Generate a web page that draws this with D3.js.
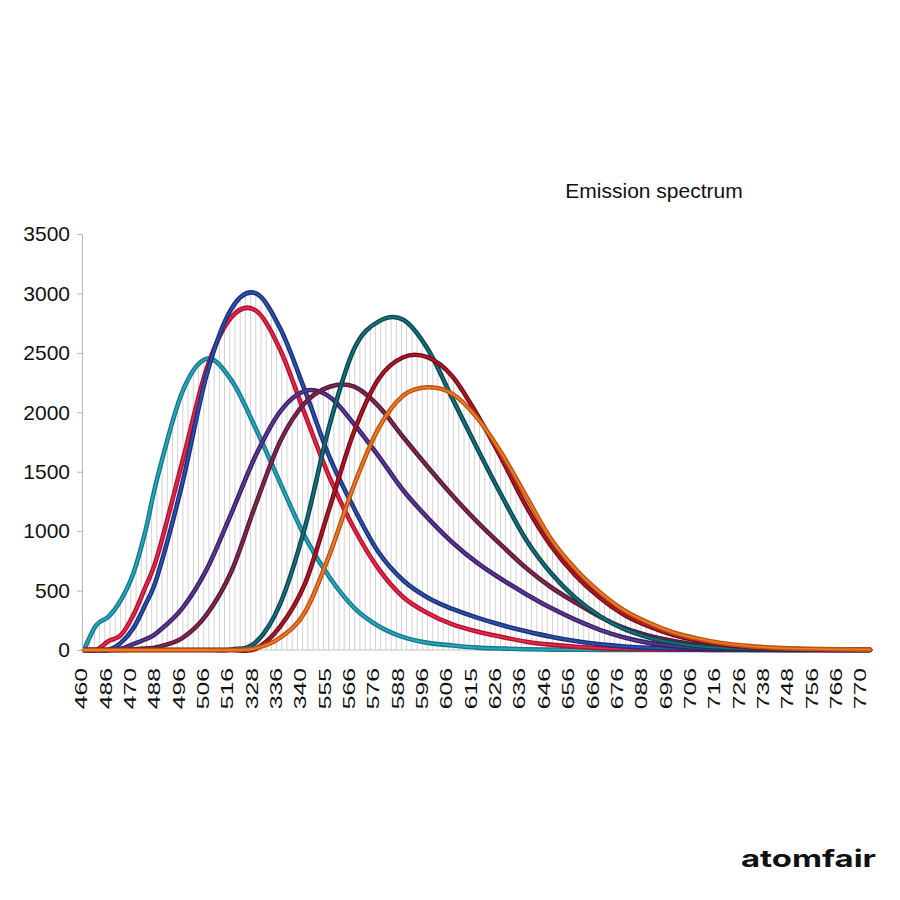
<!DOCTYPE html>
<html>
<head>
<meta charset="utf-8">
<script src="https://cdn.jsdelivr.net/npm/d3@7"></script>
<style>
  html, body { margin: 0; padding: 0; background: #fff; }
  #wrapper { width: 900px; height: 900px; }
  text { font-family: "Liberation Sans", Arial, sans-serif; }
</style>
</head>
<body>
<div id="wrapper"></div>
<script>
// tick labels on the category axis (as printed in the picture)
const tickLabels = ["460", "486", "470", "488", "496", "506", "516", "328", "336", "340", "555",
    "566", "576", "588", "596", "606", "615", "626", "636", "646", "656", "666", "676", "088",
    "696", "706", "716", "726", "738", "748", "756", "766", "770"];
const yTicks = [0, 500, 1000, 1500, 2000, 2500, 3000, 3500];

// positions of the samples, in tick-index units
const samplePos = [0, 0.5, 1, 1.5, 2, 2.5, 3, 4, 5, 6, 7, 8, 9, 10, 11, 12, 13, 14, 15, 16, 17,
    18, 19, 20, 21, 22, 23, 24, 25, 26, 27, 28, 29, 30, 31, 32];

const cyanValues = [0, 210, 280, 420, 640, 1000, 1460, 2170, 2450, 2270, 1860, 1400, 950, 610, 355,
    200, 108, 60, 38, 20, 12, 6, 3, 2, 1, 0, 0, 0, 0, 0, 0, 0, 0, 0, 0, 0];
const redValues = [0, 0, 75, 125, 290, 530, 800, 1580, 2370, 2800, 2855, 2520, 1980, 1450, 1020,
    680, 444, 310, 215, 155, 110, 70, 45, 28, 16, 10, 6, 3, 2, 1, 1, 0, 0, 0, 0, 0];
const blueValues = [0, 0, 0, 60, 180, 383, 630, 1400, 2320, 2870, 3000, 2700, 2180, 1620, 1190,
    820, 585, 440, 345, 272, 210, 158, 112, 75, 48, 30, 19, 12, 7, 4, 2, 1, 1, 0, 0, 0];
const purpleValues = [0, 0, 0, 10, 50, 90, 150, 350, 680, 1150, 1640, 2010, 2180, 2130, 1900,
    1630, 1342, 1110, 905, 735, 595, 470, 355, 255, 170, 105, 60, 32, 16, 8, 4, 2, 1, 0, 0, 0];
const maroonValues = [0, 0, 0, 0, 5, 12, 25, 100, 300, 660, 1230, 1760, 2080, 2215, 2215, 2050,
    1790, 1540, 1300, 1080, 880, 690, 530, 400, 280, 185, 120, 75, 45, 25, 14, 8, 4, 2, 1, 0];
const tealValues = [0, 0, 0, 0, 0, 0, 0, 0, 0, 5, 65, 395, 1035, 1895, 2535, 2765, 2778, 2530,
    2115, 1700, 1300, 928, 650, 440, 285, 175, 105, 60, 33, 18, 10, 5, 3, 2, 1, 0];
const darkRedValues = [0, 0, 0, 0, 0, 0, 0, 0, 0, 0, 10, 200, 560, 1198, 1840, 2282, 2463, 2462,
    2302, 1982, 1610, 1210, 880, 630, 440, 295, 198, 125, 78, 45, 25, 14, 8, 5, 3, 2];
const orangeValues = [0, 0, 0, 0, 0, 0, 0, 0, 0, 0, 15, 105, 320, 805, 1390, 1868, 2141, 2210,
    2155, 1955, 1655, 1295, 938, 683, 486, 332, 228, 147, 95, 57, 35, 20, 12, 8, 5, 3];

const seriesNames = ["cyan", "red", "blue", "purple", "maroon", "teal", "darkred", "orange"];
const seriesValues = [cyanValues, redValues, blueValues, purpleValues, maroonValues,
    tealValues, darkRedValues, orangeValues];
const outerColors = ["#16798d", "#b3112e", "#1b2f7c", "#3b1f68", "#5b1839", "#0b4650", "#7a0c18", "#bd520f"];
const innerColors = ["#2aa6ba", "#e22a4c", "#2c54ab", "#5c3a92", "#7d2b52", "#17717c", "#aa1a2c", "#ec7a2b"];

async function draw() {

    // 1. Chart dimensions
    const dimensions = {
        width: 900,
        height: 900,
        plotLeft: 84,
        plotRight: 870,
        plotTop: 234,
        plotBottom: 650,
    };

    // 2. Draw canvas
    const wrapper = d3.select("#wrapper")
        .append("svg")
        .attr("width", dimensions.width)
        .attr("height", dimensions.height);

    // 3. Scales
    const xScale = d3.scaleLinear()
        .domain([0, tickLabels.length - 1])
        .range([dimensions.plotLeft, dimensions.plotRight]);
    const xLabelScale = d3.scalePoint()
        .domain(tickLabels)
        .range([81, 860]);
    const yScale = d3.scaleLinear()
        .domain([0, 3500])
        .range([dimensions.plotBottom, dimensions.plotTop]);

    // 4. Draw data
    const dropGroup = wrapper.append("g").attr("class", "drop-lines");
    const curveGroup = wrapper.append("g").attr("class", "curves");

    // uniform catmull-rom: smooth, and keeps the peaks between samples
    const lineGenerator = d3.line()
        .x((d, i) => xScale(samplePos[i]))
        .y(d => yScale(d))
        .curve(d3.curveCatmullRom.alpha(0));

    const curves = curveGroup.selectAll(".curve")
        .data(seriesValues)
        .enter()
        .append("g")
        .attr("class", (d, i) => "curve " + seriesNames[i]);
    curves.append("path")
        .attr("d", lineGenerator)
        .attr("fill", "none")
        .attr("stroke", (d, i) => outerColors[i])
        .attr("stroke-width", 4.6)
        .attr("stroke-linejoin", "round")
        .attr("stroke-linecap", "round");
    curves.append("path")
        .attr("d", lineGenerator)
        .attr("fill", "none")
        .attr("stroke", (d, i) => innerColors[i])
        .attr("stroke-width", 1.8)
        .attr("stroke-linejoin", "round")
        .attr("stroke-linecap", "round");

    // envelope of all curves, per pixel column (used by the drop lines)
    const top = {};
    curves.select("path").each(function () {
        const total = this.getTotalLength();
        for (let l = 0; l <= total; l += 0.5) {
            const p = this.getPointAtLength(l);
            const col = Math.round(p.x);
            if (top[col] === undefined || p.y < top[col]) top[col] = p.y;
        }
    });
    const dropXs = d3.range(0, 152).map(i => xScale(i * (tickLabels.length - 1) / 151));
    dropGroup.selectAll("line")
        .data(dropXs)
        .enter()
        .append("line")
        .attr("x1", d => d)
        .attr("x2", d => d)
        .attr("y1", dimensions.plotBottom)
        .attr("y2", d => top[Math.round(d)] ?? dimensions.plotBottom)
        .attr("stroke", "#d2d2d2")
        .attr("stroke-width", 1);

    // 5. Peripherals
    const yAxis = wrapper.append("g")
        .attr("transform", `translate(82,0)`)
        .call(d3.axisLeft(yScale)
            .tickValues(yTicks)
            .tickFormat(d3.format("d"))
            .tickSize(5)
            .tickPadding(7));
    yAxis.select(".domain").attr("stroke", "#b5b5b5");
    yAxis.selectAll(".tick line").attr("stroke", "#b5b5b5");
    yAxis.selectAll(".tick text")
        .attr("fill", "#111")
        .style("font-size", "21px")
        .style("font-family", "'Liberation Sans', Arial, sans-serif");

    const xAxis = wrapper.insert("g", ".curves")
        .attr("transform", `translate(0,${dimensions.plotBottom})`)
        .call(d3.axisBottom(xLabelScale).tickSize(0));
    xAxis.select(".domain").remove();
    xAxis.append("line")
        .attr("x1", dimensions.plotLeft - 2)
        .attr("x2", dimensions.plotRight + 3)
        .attr("stroke", "#c4c4c4");
    xAxis.selectAll(".tick text")
        .attr("fill", "#111")
        .attr("x", -12)
        .attr("y", 0)
        .attr("dy", "0.35em")
        .attr("text-anchor", "end")
        .attr("transform", "rotate(-90) scale(1.5,1)")
        .style("font-size", "16.5px")
        .style("font-family", "'Liberation Sans', Arial, sans-serif");

    wrapper.append("text")
        .attr("x", 654)
        .attr("y", 198)
        .attr("text-anchor", "middle")
        .attr("fill", "#111")
        .style("font-size", "21px")
        .text("Emission spectrum");

    wrapper.append("text")
        .attr("x", 741)
        .attr("y", 867)
        .attr("fill", "#111")
        .attr("textLength", 135)
        .attr("lengthAdjust", "spacingAndGlyphs")
        .style("font-family", "Inter, 'Open Sans', sans-serif")
        .style("font-weight", 700)
        .style("font-size", "24px")
        .text("atomfair");
}

draw();
</script>
</body>
</html>
